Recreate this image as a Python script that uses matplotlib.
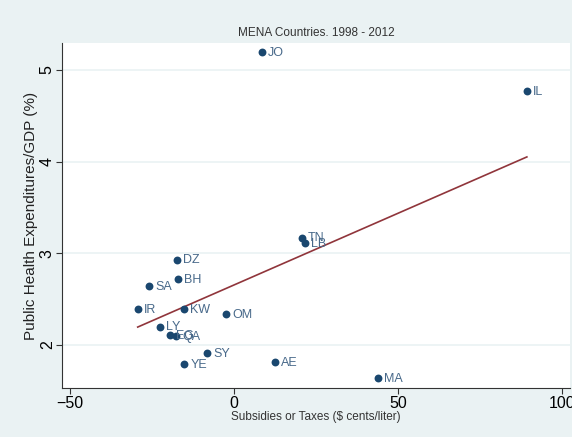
import numpy as np
import matplotlib
matplotlib.use('Agg')
import matplotlib.pyplot as plt

plt.rcParams['font.family'] = ['Liberation Sans', 'DejaVu Sans']

# MENA countries: subsidy/tax vs public health expenditure
paises = ['JO', 'IL', 'TN', 'LB', 'DZ', 'BH', 'SA', 'IR', 'KW', 'OM',
          'LY', 'EG', 'QA', 'SY', 'YE', 'AE', 'MA']
subsidio = [8.5, 89.3, 20.7, 21.6, -17.4, -17.1, -25.9, -29.3, -15.2, -2.4,
            -22.6, -19.5, -17.7, -8.2, -15.2, 12.5, 43.9]
gasto_salud = [5.19, 4.77, 3.17, 3.11, 2.93, 2.72, 2.64, 2.39, 2.39, 2.34,
               2.20, 2.11, 2.10, 1.91, 1.79, 1.81, 1.64]
xticks = [-50, 0, 50, 100]
yticks = [2, 3, 4, 5]

FONDO = '#eaf2f3'
NAVY = '#1a476f'
MAROON = '#90353b'

x = np.array(subsidio)
y = np.array(gasto_salud)

fig = plt.figure(figsize=(5.72, 4.37), dpi=100, facecolor=FONDO)
ax = fig.add_axes([0.108, 0.112, 0.8885, 0.79])
ax.set_facecolor('white')

# --- lineas de cuadricula horizontales ---
for v in yticks:
    ax.axhline(v, color=FONDO, lw=1.2, zorder=0)

# --- puntos + etiquetas ---
ax.scatter(x, y, s=32, color=NAVY, zorder=3, linewidths=0)
for p, xi, yi in zip(paises, x, y):
    ax.annotate(p, (xi, yi), xytext=(4.5, -0.5), textcoords='offset points',
                va='center', ha='left', fontsize=9, color='#48698a')

# --- recta de ajuste (OLS) ---
b, a = np.polyfit(x, y, 1)
xs = np.array([x.min(), x.max()])
ax.plot(xs, a + b * xs, color=MAROON, lw=1.2, zorder=2)

ax.set_xlim(-52.44, 102.44)
ax.set_ylim(1.531, 5.294)
ax.set_xticks(xticks)
ax.set_yticks(yticks)
ax.tick_params(axis='x', labelsize=11.5, length=4, width=0.8, color='#333333', pad=2)
ax.tick_params(axis='y', labelsize=11.5, length=4, width=0.8, color='#333333',
               labelrotation=90, pad=1)
for lbl in ax.get_yticklabels():
    lbl.set_va('center')

for s in ['top', 'right']:
    ax.spines[s].set_visible(False)
for s in ['left', 'bottom']:
    ax.spines[s].set_color('#333333')
    ax.spines[s].set_linewidth(0.8)

ax.set_title('MENA Countries. 1998 - 2012', fontsize=8.5, color='#333333', pad=5)
ax.set_xlabel('Subsidies or Taxes ($ cents/liter)', fontsize=8.5, color='#333333', labelpad=0)
ax.set_ylabel('Public Health Expenditures/GDP (%)', fontsize=11, color='#222222', labelpad=1)

fig.savefig('out.png', dpi=100, facecolor=FONDO)
